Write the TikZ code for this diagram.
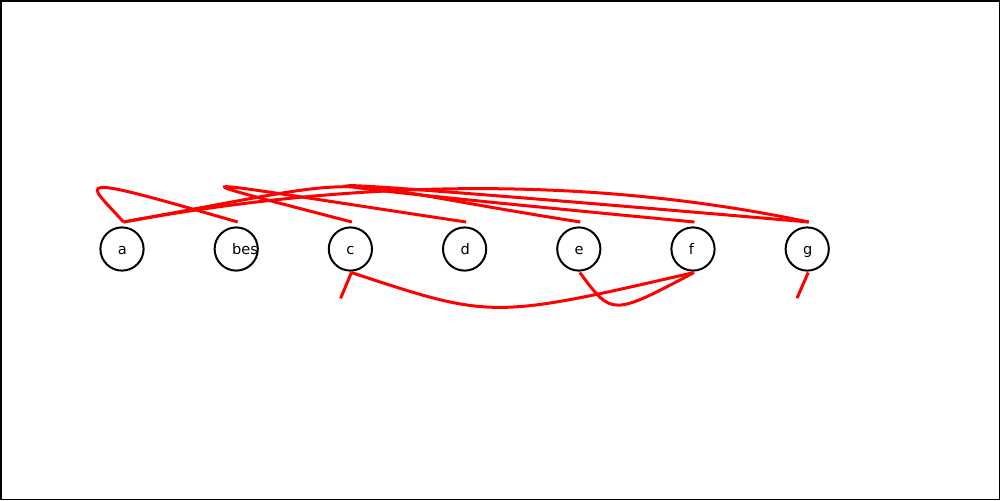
\documentclass[tikz,border=0pt]{standalone}
\usepackage{fontspec}
\setmainfont{DejaVu Sans}
\begin{document}
\begin{tikzpicture}[x=0.5pt,y=-0.5pt,
  vertex/.style={circle,draw=black,line width=1pt,minimum size=21.6pt,inner sep=0pt},
  lbl/.style={anchor=mid west,inner sep=0pt,font=\fontsize{7.3pt}{8pt}\selectfont},
  edge/.style={draw=red,line width=1.5pt}]
\useasboundingbox (0,0) rectangle (1000,500);
\draw[line width=0.75pt] (0.75,0.75) rectangle (999.25,499.25);
% nodes
\node[vertex] (a)   at (122,249)   {};
\node[vertex] (bes) at (236.2,249) {};
\node[vertex] (c)   at (350.4,249) {};
\node[vertex] (d)   at (464.6,249) {};
\node[vertex] (e)   at (578.8,249) {};
\node[vertex] (f)   at (693,249)   {};
\node[vertex] (g)   at (807.2,249) {};
% labels
\node[lbl] (la)   at (117.5,249.5) {a};
\node[lbl] (lbes) at (231.7,249.5) {bes};
\node[lbl] (lc)   at (345.9,249.5) {c};
\node[lbl] (ld)   at (460.1,249.5) {d};
\node[lbl] (le)   at (574.3,249.5) {e};
\node[lbl] (lf)   at (688.5,249.5) {f};
\node[lbl] (lg)   at (802.7,249.5) {g};
% attachment points
\foreach \n in {a,bes,c,d,e,f,g}{
  \path (\n) ++(1.5,-27) coordinate (\n-t);
  \path (\n) ++(1,23.5) coordinate (\n-b);
}
% edges above
\draw[edge] (bes-t) .. controls (62,171) and (87,181) .. (a-t);
\draw[edge] (c-t) .. controls (156,171) and (180,179) .. (d-t);
\draw[edge] (a-t) .. controls (400,172) and (300,178) .. (e-t);
\draw[edge] (a-t) .. controls (370,177) and (600,178) .. (g-t);
\draw[edge] (f-t) .. controls (200,175) and (232,172) .. (g-t);
% edges below
\draw[edge] (c-b) .. controls (492,319) and (492,319) .. (f-b);
\draw[edge] (e-b) .. controls (612,316) and (612,316) .. (f-b);
\draw[edge] (c-b) .. controls (337,307) and (337,307) .. (c-b);
\draw[edge] (g-b) .. controls (793.3,306.7) and (793.3,306.7) .. (g-b);
\end{tikzpicture}
\end{document}
